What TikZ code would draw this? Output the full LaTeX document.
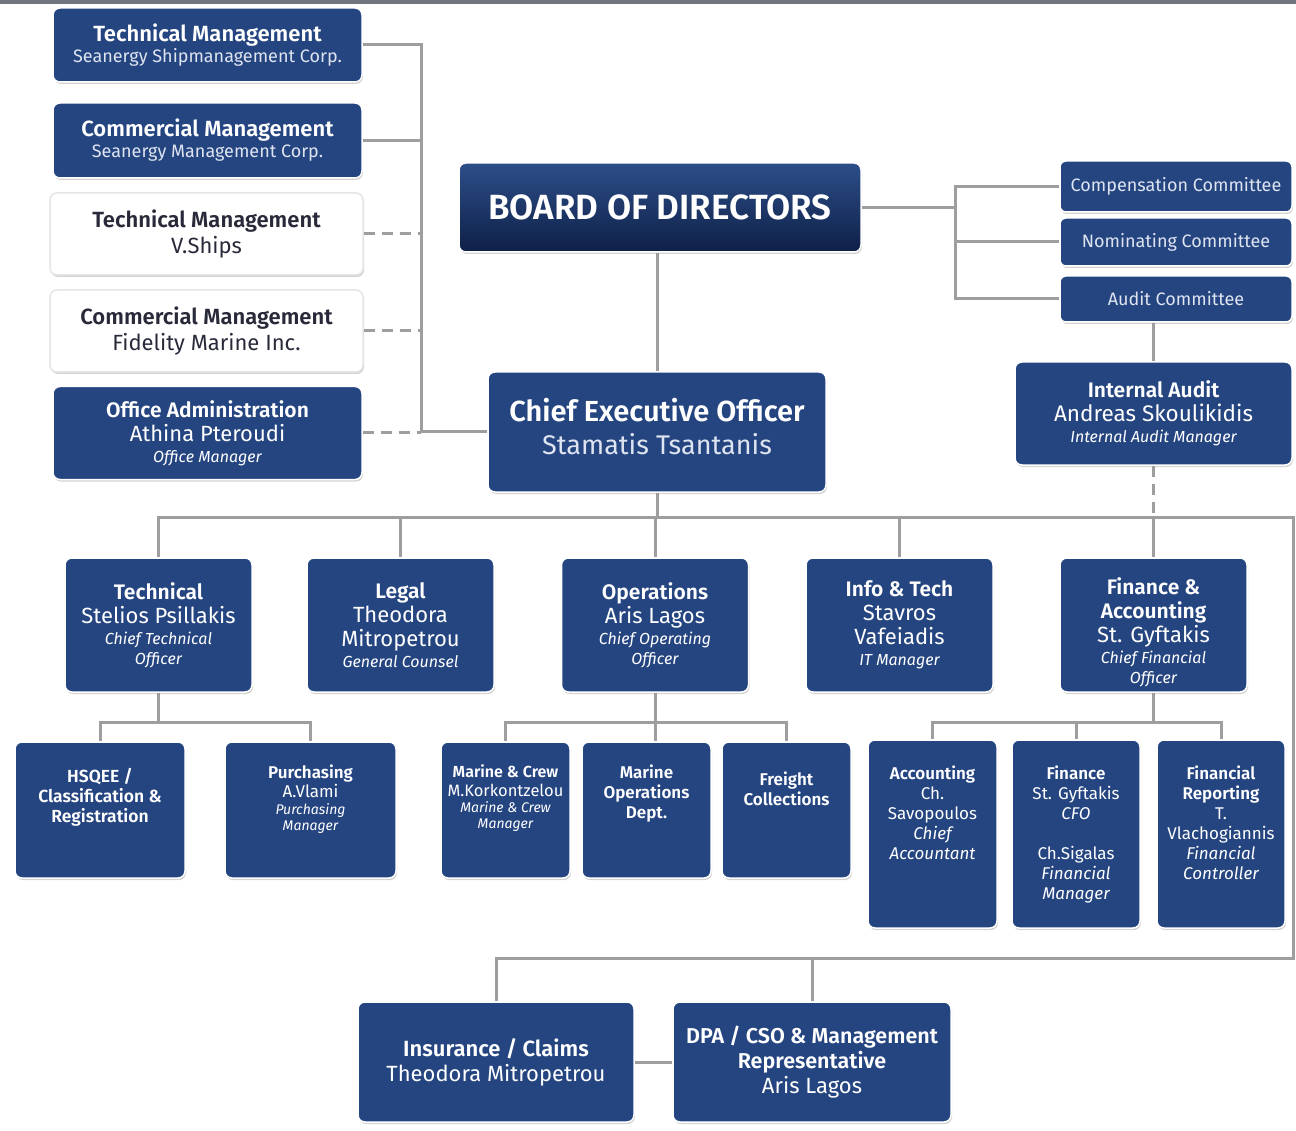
\documentclass[tikz,border=0pt]{standalone}
\usepackage{fontspec}
\setmainfont{Fira Sans}[BoldFont={Fira Sans SemiBold}, BoldItalicFont={Fira Sans SemiBold Italic}]
\usetikzlibrary{positioning}
\usetikzlibrary{shadows}
\definecolor{navy}{RGB}{37,69,129}
\definecolor{navytop}{RGB}{45,78,138}
\definecolor{navybottom}{RGB}{14,32,70}
\definecolor{linegray}{RGB}{158,158,158}
\definecolor{framegray}{RGB}{112,117,128}
\definecolor{inkdark}{RGB}{40,42,58}
\definecolor{softwhite}{RGB}{222,228,240}
\tikzset{wh/.style 2 args = {minimum width=#1, minimum height=#2}}
\tikzset{unit/.style = {rectangle, rounded corners=7pt, fill=navy, draw=white, line width=1.5pt,
                        text=white, align=center, inner sep=0,
                        font=\fontsize{16}{21}\selectfont,
                        drop shadow={opacity=0.35, shadow xshift=1pt, shadow yshift=-2pt}}}
\tikzset{paleunit/.style = {unit, fill=white, draw=gray!20, text=inkdark}}
\tikzset{cell/.style = {text=white, align=center, inner sep=0}}
\tikzset{link/.style = {draw=linegray, line width=3pt}}
\tikzset{dlink/.style = {link, dash pattern=on 11pt off 7pt}}
\newcommand{\hd}[2]{{\fontsize{#1}{#1}\selectfont\bfseries #2}}
\newcommand{\nm}[2]{{\fontsize{#1}{#1}\selectfont #2}}
\newcommand{\rl}[2]{{\fontsize{#1}{#1}\selectfont\itshape #2}}

\begin{document}
\begin{tikzpicture}[x=1pt, y=-1pt]
    \useasboundingbox (0,0) rectangle (1296,1131);
    \fill[framegray] (0,0) rectangle (1296,4);

    % management companies
    \node [unit, wh={309}{74}] (tmA) at (207.5,45) {\hd{22}{Technical Management}\\\nm{18}{\color{softwhite}Seanergy Shipmanagement Corp.}};
    \node [unit, wh={309}{75}] (cmA) at (207.5,140.5) {\hd{22}{Commercial Management}\\\nm{18}{\color{softwhite}Seanergy Management Corp.}};
    \node [paleunit, wh={313}{82}, font=\fontsize{16}{26}\selectfont] (tmB) at (206.5,234) {\hd{22}{Technical Management}\\\nm{22}{V.Ships}};
    \node [paleunit, wh={313}{82}, font=\fontsize{16}{26}\selectfont] (cmB) at (206.5,331) {\hd{22}{Commercial Management}\\\nm{22}{Fidelity Marine Inc.}};
    \node [unit, wh={309}{93}, font=\fontsize{16}{24}\selectfont] (office) at (207.5,433) {\hd{21}{Office Administration}\\\nm{22}{Athina Pteroudi}\\[-3pt]\rl{16}{Office Manager}};

    % board and ceo
    \node [unit, wh={402}{89}, top color=navytop, bottom color=navybottom] (board) at (660,207.5) {\hd{35}{BOARD OF DIRECTORS}};
    \node [unit, wh={338}{120}, font=\fontsize{16}{33}\selectfont] (ceo) at (657,432) {\hd{29}{Chief Executive Officer}\\\nm{27}{\color{softwhite}Stamatis Tsantanis}\\[-22pt]{}};

    % committees
    \node [unit, wh={232}{51}, rounded corners=6pt] (comp) at (1176,186.5) {\nm{18}{\color{softwhite}Compensation Committee}};
    \node [unit, wh={232}{48}, rounded corners=6pt] (nom) at (1176,242) {\nm{18}{\color{softwhite}Nominating Committee}};
    \node [unit, wh={232}{46}, rounded corners=6pt] (audit) at (1176,299) {\nm{18}{\color{softwhite}Audit Committee}};
    \node [unit, wh={277}{103}, font=\fontsize{16}{24}\selectfont] (intaudit) at (1153.5,413.5) {\hd{21}{Internal Audit}\\\nm{22.5}{Andreas Skoulikidis}\\[-3pt]\rl{16}{Internal Audit Manager}};

    % departments
    \node [unit, wh={187}{134}, font=\fontsize{16}{24}\selectfont] (tech) at (158.5,625) {\hd{21}{Technical}\\\nm{22}{Stelios Psillakis}\\[-3pt]\rl{16}{Chief Technical}\\[-4pt]\rl{16}{Officer}};
    \node [unit, wh={187}{134}, font=\fontsize{16}{24}\selectfont] (legal) at (400.5,625) {\hd{21}{Legal}\\\nm{22}{Theodora}\\\nm{22}{Mitropetrou}\\[-3pt]\rl{16}{General Counsel}};
    \node [unit, wh={187}{134}, font=\fontsize{16}{24}\selectfont] (ops) at (655,625) {\hd{21}{Operations}\\\nm{22}{Aris Lagos}\\[-3pt]\rl{16}{Chief Operating}\\[-4pt]\rl{16}{Officer}};
    \node [unit, wh={187}{134}, font=\fontsize{16}{24}\selectfont] (infotech) at (899.5,625) {\hd{21}{Info \& Tech}\\\nm{22}{Stavros}\\\nm{22}{Vafeiadis}\\[-3pt]\rl{16}{IT Manager}};
    \node [unit, wh={187}{134}, font=\fontsize{16}{24}\selectfont] (fin) at (1153.5,625) {{}\\[7pt]\hd{21}{Finance \&}\\\hd{21}{Accounting}\\\nm{22}{St. Gyftakis}\\[-3pt]\rl{16}{Chief Financial}\\[-4pt]\rl{16}{Officer}};

    % sections
    \node [unit, wh={170}{136}] (hsqee) at (100,810) {};
    \node [unit, wh={171}{136}] (purch) at (310.5,810) {};
    \node [unit, wh={129}{136}] (marine) at (505.5,810) {};
    \node [unit, wh={129}{136}] (marops) at (646.5,810) {};
    \node [unit, wh={129}{136}] (freight) at (786.5,810) {};
    \node [unit, wh={129}{188}] (acct) at (932.5,834) {};
    \node [unit, wh={128}{188}] (finance) at (1076,834) {};
    \node [unit, wh={128}{188}] (finrep) at (1221,834) {};

    \node [cell, below=27pt of hsqee.north, font=\fontsize{16}{20}\selectfont] (hsqeeTxt) {\hd{17.5}{HSQEE /}\\\hd{17.5}{Classification \&}\\\hd{17.5}{Registration}};
    \node [cell, below=23pt of purch.north, font=\fontsize{16}{19}\selectfont] (purchTxt) {\hd{17}{Purchasing}\\\nm{17}{A.Vlami}\\[-2pt]\rl{14}{Purchasing}\\[-3pt]\rl{14}{Manager}};
    \node [cell, below=23pt of marine.north, font=\fontsize{15}{19}\selectfont] (marineTxt) {\hd{16}{Marine \& Crew}\\\nm{16.5}{M.Korkontzelou}\\[-3pt]\rl{14}{Marine \& Crew}\\[-3pt]\rl{14}{Manager}};
    \node [cell, below=23pt of marops.north, font=\fontsize{16}{20}\selectfont] (maropsTxt) {\hd{17}{Marine}\\\hd{17}{Operations}\\\hd{17}{Dept.}};
    \node [cell, below=30pt of freight.north, font=\fontsize{16}{20}\selectfont] (freightTxt) {\hd{17}{Freight}\\\hd{17}{Collections}};
    \node [cell, below=26pt of acct.north, font=\fontsize{17}{20}\selectfont] (acctTxt) {\hd{17}{Accounting}\\\nm{17}{Ch.}\\\nm{17}{Savopoulos}\\\rl{17}{Chief}\\\rl{17}{Accountant}};
    \node [cell, below=26pt of finance.north, font=\fontsize{17}{20}\selectfont] (financeTxt) {\hd{17}{Finance}\\\nm{17}{St. Gyftakis}\\\rl{17}{CFO}\\[20pt]\nm{17}{Ch.Sigalas}\\\rl{17}{Financial}\\\rl{17}{Manager}};
    \node [cell, below=26pt of finrep.north, font=\fontsize{17}{20}\selectfont] (finrepTxt) {\hd{17}{Financial}\\\hd{17}{Reporting}\\\nm{17}{T.}\\\nm{17}{Vlachogiannis}\\\rl{17}{Financial}\\\rl{17}{Controller}};

    % representatives
    \node [unit, wh={276}{120}, font=\fontsize{16}{25}\selectfont] (ins) at (496,1062) {\hd{22}{Insurance / Claims}\\\nm{22}{Theodora Mitropetrou}};
    \node [unit, wh={278}{120}, font=\fontsize{16}{25}\selectfont] (dpa) at (812,1062) {\hd{21.5}{DPA / CSO \& Management}\\\hd{21.5}{Representative}\\\nm{22}{Aris Lagos}};

    % buses
    \coordinate (lbus) at (421,0);
    \coordinate (rbus) at (955,0);
    \coordinate (mbus) at (0,517);
    \coordinate (busR) at (1293,517);
    \coordinate (sbus) at (0,722);
    \coordinate (loopB) at (0,958);

    \draw [link] (tmA.east) -| (lbus |- ceo.west) -- (ceo.west);
    \draw [link] (cmA.east) -- (cmA.east -| lbus);
    \draw [dlink] (tmB.east) -- (tmB.east -| lbus);
    \draw [dlink] (cmB.east) -- (cmB.east -| lbus);
    \draw [dlink] (office.east) -- (office.east -| lbus);

    \draw [link] (ceo.north |- board.south) -- (ceo.north);
    \draw [link] (board.east) -- (board.east -| rbus);
    \draw [link] (comp.west) -| (rbus |- audit.west) -- (audit.west);
    \draw [link] (nom.west) -- (nom.west -| rbus);
    \draw [link] (intaudit.north |- audit.south) -- (intaudit.north);
    \draw [dlink] (intaudit.south) -- (intaudit.south |- mbus);

    \draw [link] (ceo.south) -- (ceo.south |- mbus);
    \draw [link] (tech.north) |- (busR) |- (ins.north |- loopB) -- (ins.north);
    \foreach \d in {legal, ops, infotech, fin}
        \draw [link] (\d.north) -- (\d.north |- mbus);
    \draw [link] (dpa.north) -- (dpa.north |- loopB);
    \draw [link] (ins.east) -- (dpa.west);

    \draw [link] (tech.south) -- (tech.south |- sbus);
    \draw [link] (hsqee.north) |- (purch.north |- sbus) -- (purch.north);
    \draw [link] (ops.south) -- (ops.south |- marops.north);
    \draw [link] (marine.north) |- (freight.north |- sbus) -- (freight.north);
    \draw [link] (fin.south) -- (fin.south |- sbus);
    \draw [link] (acct.north) |- (finrep.north |- sbus) -- (finrep.north);
    \draw [link] (finance.north) -- (finance.north |- sbus);
\end{tikzpicture}
\end{document}
